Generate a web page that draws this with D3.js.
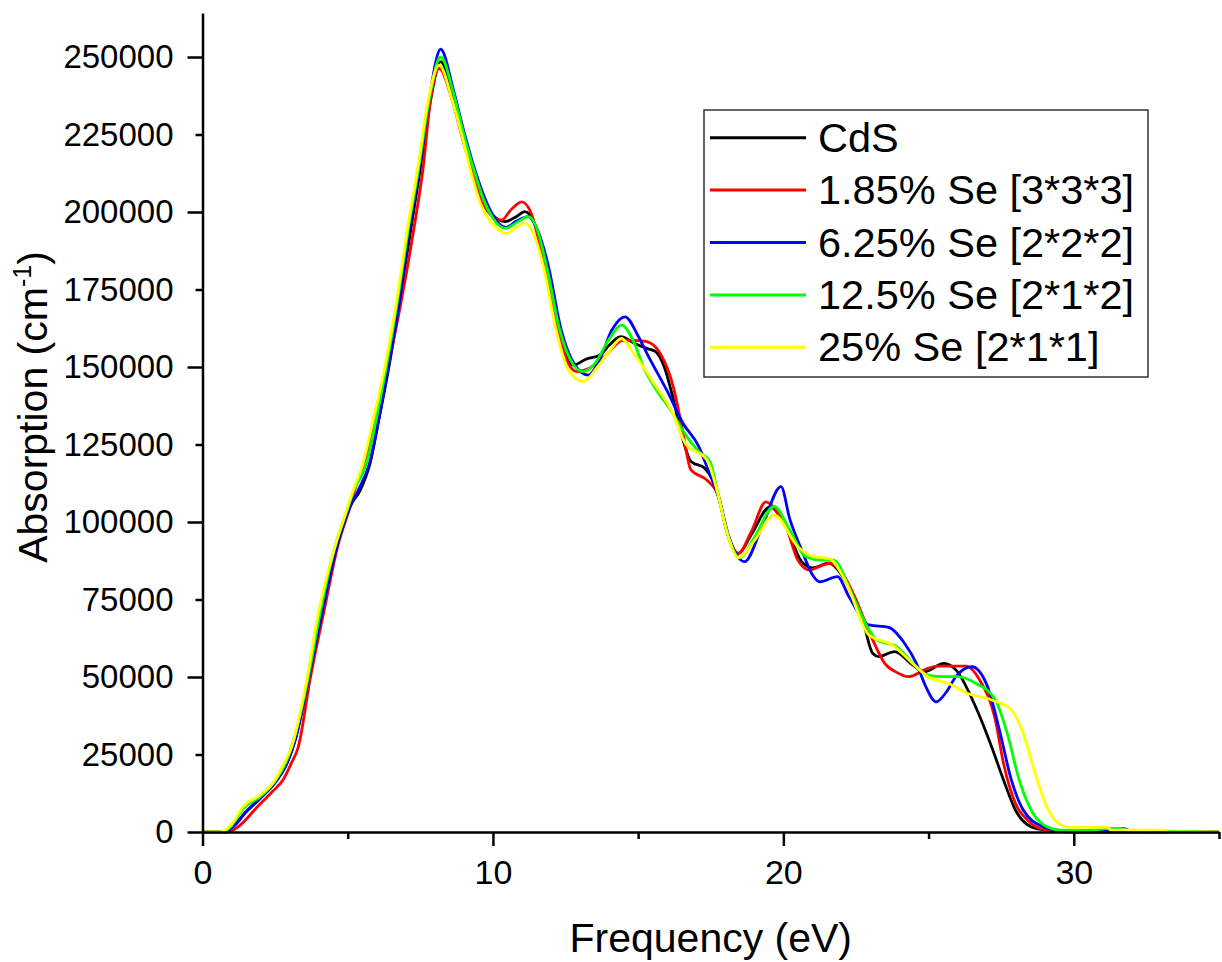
<!DOCTYPE html>
<html>
<head>
<meta charset="utf-8">
<script src="https://cdn.jsdelivr.net/npm/d3@7"></script>
<style>
  body { margin: 0; background: #fff; }
  text { font-family: "Liberation Sans", Arial, sans-serif; fill: #000; }
</style>
</head>
<body>
<div id="main"></div>
<script>
// absorption spectra, [energy eV, absorption in 1000 cm^-1]
const cds = [[0,0],[0.7,0],[1.0,1.5],[1.5,6.5],[2.0,11],[2.5,16],[2.9,22],[3.2,30],[3.6,47],[4.15,70.6],[4.6,91],[5.0,104],[5.42,110],[5.77,119],[6.11,135],[6.4,149],[6.8,172],[7.15,193],[7.5,214],[7.85,236],[8.2,248.5],[8.6,238],[9.0,224],[9.3,214],[9.65,204],[10.0,199],[10.42,196.9],[10.8,198.5],[11.1,200.1],[11.4,197],[11.8,184],[12.25,162],[12.77,150.6],[13.2,152.5],[13.69,153.9],[14.0,157],[14.4,159.8],[14.9,157.5],[15.3,156],[15.6,155],[15.9,150],[16.2,140],[16.5,128],[16.82,119.5],[17.3,117.3],[17.77,108.2],[18.04,97.4],[18.45,89.9],[18.9,96],[19.54,104.9],[20.09,98.5],[20.63,87.2],[21.0,85.2],[21.58,86.7],[22.12,81.3],[22.68,70.5],[23.08,57.6],[23.29,56.6],[23.83,58.2],[24.45,53.9],[24.85,51.7],[25.53,54.4],[25.94,52.3],[26.62,40.4],[27.17,27.5],[27.58,16.8],[27.99,7.1],[28.53,1.7],[29.1,0.5],[30,0],[35,0]];

const se185 = [[0,0],[0.9,0],[1.2,1.5],[1.9,8.2],[2.4,13],[2.77,16.8],[3.05,22],[3.3,27.5],[3.7,49],[4.2,72],[4.65,92],[5.05,104],[5.3,112],[5.6,119],[5.94,135],[6.38,150],[6.85,171.6],[7.25,193],[7.6,214.6],[7.85,236],[8.15,246.3],[8.6,236],[9.0,222],[9.3,213],[9.65,203],[10.0,198.5],[10.3,197.4],[10.6,200.5],[10.99,203.3],[11.3,200],[11.7,186],[12.2,163],[12.6,151],[12.9,148.5],[13.3,149.5],[13.8,153],[14.5,158.7],[15.0,158.5],[15.3,158.2],[15.75,154.5],[16.21,143.6],[16.5,131],[16.82,116.8],[17.37,113.5],[17.77,108.2],[18.04,97.4],[18.45,89.9],[18.9,97],[19.4,106.5],[19.8,103],[20.09,98.5],[20.5,87.7],[20.9,84.5],[21.2,85.5],[21.58,86.7],[22.0,84],[22.4,77],[23.08,61.9],[23.49,54.4],[23.9,51.5],[24.31,50.1],[24.98,52.8],[25.3,53.5],[26.3,53.5],[26.76,49],[27.3,36.1],[27.58,22.2],[27.99,9.3],[28.4,3.9],[29.0,0.8],[30,0.3],[32,0.2],[33,0],[35,0]];

const se625 = [[0,0],[0.75,0],[1.1,2],[1.5,6.5],[2.0,11],[2.5,16],[2.9,22],[3.2,30],[3.6,47],[4.1,70],[4.6,91],[5.0,103],[5.35,110],[5.75,119],[6.11,135],[6.4,150],[6.8,172],[7.1,193],[7.48,214.6],[7.8,236],[8.2,252.5],[8.65,239],[9.0,226],[9.3,216],[9.7,205],[10.0,199],[10.45,195],[10.8,197],[11.22,198.5],[11.5,195],[11.9,183],[12.35,162],[12.8,151],[13.29,147.4],[13.7,153],[14.1,162],[14.55,166.2],[15.0,160],[15.3,154.4],[15.98,142.6],[16.55,131.8],[17.09,124.3],[17.37,117.8],[17.8,107],[18.1,96],[18.66,87.2],[19.27,98.5],[19.92,111.4],[20.22,101],[20.63,91],[21.0,83],[21.25,80.7],[21.86,82.4],[22.26,75.9],[22.95,66.8],[23.63,66],[24.17,60.9],[24.58,54.4],[24.9,47],[25.26,42],[25.6,45],[25.94,50.1],[26.49,53.3],[27.03,46.9],[27.44,32.9],[27.85,16.8],[28.26,7.1],[28.94,1.7],[29.5,0.5],[30,0.3],[31.3,0.4],[31.7,1.2],[32.0,0.2],[35,0]];

const se125 = [[0,0],[0.7,0],[1.0,2],[1.4,7.5],[2.0,11.5],[2.5,16.5],[2.85,22],[3.15,30],[3.6,48],[4.05,70.6],[4.56,92],[4.95,103],[5.2,110],[5.65,119],[6.0,134],[6.33,150],[6.72,171.6],[7.06,193],[7.45,214.6],[7.8,236],[8.2,250],[8.65,238],[9.0,225],[9.3,215],[9.68,204],[10.0,198],[10.45,194.7],[10.8,196.5],[11.22,198.5],[11.5,195],[11.85,182.4],[12.3,162],[12.75,151],[13.1,148.5],[13.5,151],[14.0,159],[14.43,163.5],[14.9,157],[15.18,150],[15.6,143],[16.2,135],[16.5,130],[17.09,122.7],[17.47,119.5],[17.77,108.2],[18.04,97.4],[18.5,88.5],[19.0,95],[19.68,105],[20.22,97.4],[20.77,88.8],[21.31,87.7],[21.72,87.7],[22.4,75.9],[22.95,65.2],[23.22,61.9],[23.9,59.8],[24.58,53.3],[24.98,50.6],[25.5,50.1],[26.0,50.1],[26.62,48],[27.3,42.6],[27.71,31.8],[28.12,16.8],[28.53,7.1],[29.07,1.7],[29.6,0.5],[30.5,0.3],[31.2,1.2],[31.6,1.2],[32,0.2],[33.2,0.3],[35,0]];

const se25 = [[0,0],[0.6,0],[1.0,2.5],[1.4,8.2],[2.0,12],[2.5,16.8],[2.8,22],[3.07,27.5],[3.59,49],[3.99,70.6],[4.56,92],[4.9,102],[5.18,110],[5.5,118],[5.88,133],[6.28,150],[6.69,171.6],[7.03,193],[7.42,214.6],[7.77,236],[8.15,247.4],[8.6,236],[8.95,224],[9.27,212],[9.6,202],[10.0,196],[10.45,193.1],[10.8,195],[11.1,196.4],[11.4,193],[11.74,182.4],[12.2,161],[12.6,149],[13.11,145.3],[13.6,150],[14.0,155],[14.43,159.2],[14.8,155],[15.18,150],[15.46,145.8],[16.2,135],[16.62,125.4],[17.37,120],[17.77,108.2],[18.04,97.4],[18.45,88.5],[19.0,94],[19.68,102.3],[20.5,92],[21.04,88.8],[21.58,88.2],[22.12,81.3],[22.95,63.5],[23.76,60.3],[24.45,54.4],[24.98,50.1],[25.67,48],[26.35,44.7],[27.17,42.6],[27.85,39.4],[28.26,31.8],[28.67,18.9],[29.07,8.2],[29.48,2.8],[29.87,1.5],[31.2,1.5],[31.25,0.6],[33.15,0.6],[33.2,0],[35,0]];

const seriesNames = ["CdS", "1.85% Se [3*3*3]", "6.25% Se [2*2*2]", "12.5% Se [2*1*2]", "25% Se [2*1*1]"];
const seriesColors = ["#000000", "#ff0000", "#0000ff", "#00ff00", "#ffff00"];
const seriesData = [cds, se185, se625, se125, se25];

const yTicks = d3.range(0, 250001, 25000);
const xTicks = d3.range(0, 36, 5);

const chartW = 1222, chartH = 962;
const plotLeft = 202.5, plotRight = 1219, plotTop = 13, plotBottom = 832;

const svg = d3.select('#main')
  .append('svg')
  .attr('width', chartW)
  .attr('height', chartH);

const xScale = d3.scaleLinear().domain([0, 35]).range([plotLeft, plotRight]);
const yScale = d3.scaleLinear().domain([0, 264200]).range([plotBottom, plotTop]);

// curves
const line = d3.line()
  .x(d => xScale(d[0]))
  .y(d => yScale(d[1] * 1000))
  .curve(d3.curveMonotoneX);

svg.append('g')
  .selectAll('path')
  .data(seriesData)
  .join('path')
    .attr('d', d => line(d))
    .attr('fill', 'none')
    .attr('stroke', (d, i) => seriesColors[i])
    .attr('stroke-width', 2.8)
    .attr('stroke-linejoin', 'round');

// axes
const yAxis = d3.axisLeft(yScale)
  .tickValues(yTicks)
  .tickSize(15)
  .tickSizeOuter(0)
  .tickPadding(14)
  .tickFormat(d3.format('d'));

const gy = svg.append('g')
  .attr('transform', `translate(${plotLeft},0)`)
  .call(yAxis);
gy.selectAll('.tick line')
  .attr('x2', d => d % 50000 === 0 ? -15 : -7)
  .attr('stroke-width', 2.5);
gy.selectAll('.tick text').attr('font-size', 33);

const xAxis = d3.axisBottom(xScale)
  .tickValues(xTicks)
  .tickSize(14)
  .tickSizeOuter(0)
  .tickPadding(14)
  .tickFormat(d => d % 10 === 0 ? d : '');

const gx = svg.append('g')
  .attr('transform', `translate(0,${plotBottom})`)
  .call(xAxis);
gx.selectAll('.tick line')
  .attr('y2', d => d % 10 === 0 ? 14 : 7)
  .attr('stroke-width', 2.5);
gx.selectAll('.tick text').attr('font-size', 34);

svg.selectAll('.domain').attr('stroke-width', 2.5);
svg.selectAll('.tick text').attr('font-family', '"Liberation Sans", Arial, sans-serif').attr('fill', '#000');

// axis titles
svg.append('text')
  .attr('x', (plotLeft + plotRight) / 2)
  .attr('y', 952)
  .attr('text-anchor', 'middle')
  .attr('font-size', 41)
  .text('Frequency (eV)');

const yTitle = svg.append('text')
  .attr('transform', 'translate(47,407) rotate(-90)')
  .attr('text-anchor', 'middle')
  .attr('font-size', 41);
yTitle.append('tspan').text('Absorption (cm');
yTitle.append('tspan').attr('font-size', 25).attr('dy', -16).text('-1');
yTitle.append('tspan').attr('dy', 16).text(')');

// legend
const legend = svg.append('g');
legend.append('rect')
  .attr('x', 704)
  .attr('y', 110)
  .attr('width', 444)
  .attr('height', 267)
  .attr('fill', '#fff')
  .attr('stroke', '#333')
  .attr('stroke-width', 1.5);

const rows = legend.selectAll('g.row')
  .data(seriesNames)
  .join('g')
    .attr('class', 'row')
    .attr('transform', (d, i) => `translate(0,${137.7 + i * 52.4})`);
rows.append('line')
  .attr('x1', 710).attr('x2', 806)
  .attr('stroke', (d, i) => seriesColors[i])
  .attr('stroke-width', 3);
rows.append('text')
  .attr('x', 818)
  .attr('y', 14)
  .attr('font-size', 41.5)
  .text(d => d);
</script>
</body>
</html>
